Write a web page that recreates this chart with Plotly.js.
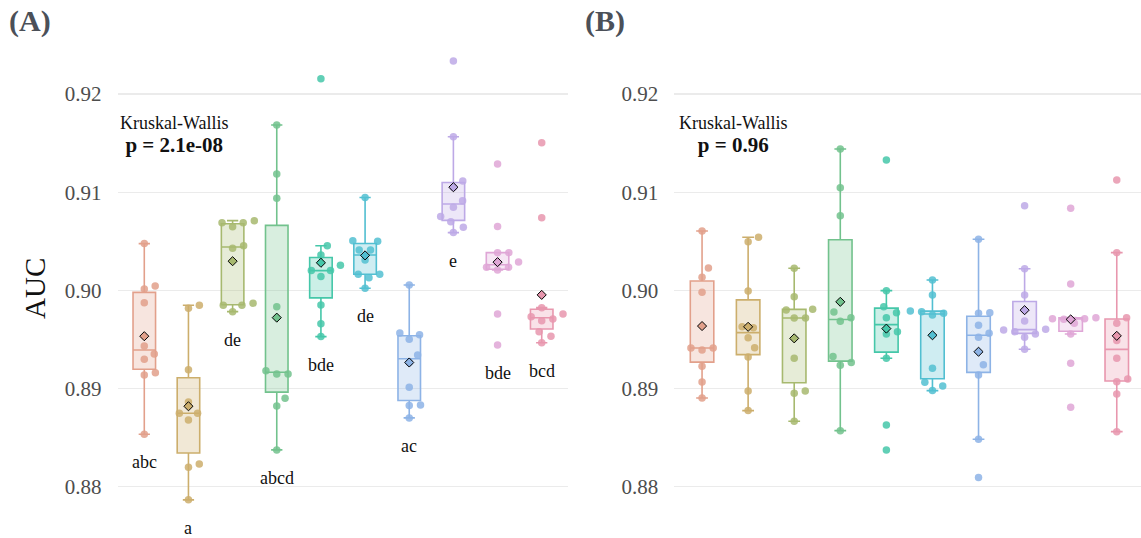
<!DOCTYPE html>
<html>
<head>
<meta charset="utf-8">
<script src="https://cdn.plot.ly/plotly-3.0.1.min.js"></script>
<style>html,body{margin:0;padding:0;background:#fff;}#chart{width:1141px;height:538px;}</style>
</head>
<body>
<div id="chart"></div>
<script>
// ---- Panel A: AUC values per group (10 groups, 10 folds each) ----
const a1 = [0.90476, 0.90045, 0.90014, 0.89875, 0.89434, 0.89352, 0.89298, 0.89162, 0.89139, 0.88535];
const a2 = [0.89848, 0.89818, 0.89192, 0.88864, 0.88748, 0.88748, 0.88680, 0.88232, 0.88199, 0.87866];
const a3 = [0.90710, 0.90689, 0.90689, 0.90649, 0.90455, 0.90429, 0.89869, 0.89848, 0.89848, 0.89783];
const a4 = [0.91684, 0.91185, 0.90938, 0.89834, 0.89182, 0.89149, 0.89149, 0.88901, 0.88823, 0.88375];
const a5 = [0.92156, 0.90455, 0.90360, 0.90256, 0.90201, 0.90201, 0.90140, 0.89851, 0.89661, 0.89529];
const a6 = [0.90945, 0.90506, 0.90500, 0.90411, 0.90411, 0.90310, 0.90164, 0.90164, 0.90129, 0.90021];
const a7 = [0.90055, 0.89566, 0.89549, 0.89502, 0.89342, 0.89265, 0.89013, 0.88833, 0.88826, 0.88701];
const a8 = [0.92336, 0.91565, 0.91114, 0.91050, 0.90913, 0.90846, 0.90751, 0.90700, 0.90643, 0.90588];
const a9 = [0.91287, 0.90650, 0.90384, 0.90384, 0.90288, 0.90235, 0.90235, 0.90208, 0.89760, 0.89444];
const a10 = [0.91504, 0.90740, 0.89824, 0.89760, 0.89732, 0.89709, 0.89691, 0.89579, 0.89533, 0.89467];
const lettersA = ['abc', 'a', 'de', 'abcd', 'bde', 'de', 'ac', 'e', 'bde', 'bcd'];
const pValueA = '2.1e-08';

// ---- Panel B ----
const b1 = [0.90605, 0.90228, 0.90133, 0.89981, 0.89413, 0.89413, 0.89393, 0.89227, 0.89067, 0.88904];
const b2 = [0.90541, 0.90496, 0.89994, 0.89629, 0.89620, 0.89518, 0.89416, 0.89322, 0.88976, 0.88775];
const b3 = [0.90225, 0.89936, 0.89808, 0.89800, 0.89719, 0.89719, 0.89309, 0.88976, 0.88952, 0.88667];
const b4 = [0.91440, 0.91046, 0.90761, 0.89780, 0.89722, 0.89685, 0.89325, 0.89264, 0.89237, 0.88571];
const b5 = [0.91328, 0.89997, 0.89834, 0.89773, 0.89722, 0.89579, 0.89556, 0.89309, 0.88629, 0.88375];
const b6 = [0.90106, 0.89953, 0.89790, 0.89783, 0.89767, 0.89750, 0.89207, 0.89064, 0.89027, 0.88979];
const b7 = [0.90520, 0.89773, 0.89767, 0.89645, 0.89563, 0.89522, 0.89243, 0.89139, 0.88484, 0.88093];
const b8 = [0.90863, 0.90220, 0.89953, 0.89688, 0.89604, 0.89597, 0.89579, 0.89556, 0.89522, 0.89400];
const b9 = [0.90836, 0.90065, 0.89722, 0.89712, 0.89712, 0.89706, 0.89665, 0.89556, 0.89258, 0.88810];
const b10 = [0.91124, 0.90384, 0.89722, 0.89665, 0.89488, 0.89309, 0.89098, 0.89070, 0.88945, 0.88561];
const pValueB = '0.96';

const yTickVals = [0.88, 0.89, 0.90, 0.91, 0.92];
const yTickText = ['0.88', '0.89', '0.90', '0.91', '0.92'];

// ---- styles ----
const colors = ['#E2A08B', '#CCAE6C', '#A7B96F', '#72C28D', '#45C7A9', '#52BFD1', '#8DB3E6', '#BDA9E6', '#DFA6D6', '#E897AE'];
const FONT = "'Liberation Serif', serif";
const W = 1141, H = 538;
const yRange = [0.874776, 0.929574];
const domA = [117.8 / W, 568.2 / W], rangeA = [0.4, 10.6];
const domB = [674.4 / W, 1], rangeB = [0.4, 0.4 + (W - 674.4) / 46.08];

function hexA(h, a) {
  const n = parseInt(h.slice(1), 16);
  return `rgba(${(n >> 16) & 255},${(n >> 8) & 255},${n & 255},${a})`;
}
function q7(s, p) {
  const h = (s.length - 1) * p, lo = Math.floor(h), hi = Math.min(lo + 1, s.length - 1);
  return s[lo] + (h - lo) * (s[hi] - s[lo]);
}
// beeswarm (swarm method, ascending priority)
function swarm(vals, pxX, pxY, d) {
  const idx = vals.map((v, i) => i).sort((a, b) => vals[a] - vals[b] || a - b);
  const placed = [], off = new Array(vals.length);
  idx.forEach(i => {
    const y = vals[i] * pxY;
    const c = [0];
    placed.forEach(p => {
      const dy = Math.abs(p.y - y);
      if (dy < d) { const dx = Math.sqrt(d * d - dy * dy); c.push(p.x + dx, p.x - dx); }
    });
    const ok = c.filter(x => placed.every(p => (x - p.x) ** 2 + (y - p.y) ** 2 >= d * d - 1e-6));
    let best = ok.length ? ok[0] : 0;
    ok.forEach(x => { if (Math.abs(x) < Math.abs(best) - 1e-9) best = x; });
    placed.push({ x: best, y });
    off[i] = best / pxX;
  });
  return off;
}

const pxY = H / (yRange[1] - yRange[0]);
const traces = [], annotations = [];

function panel(groups, xa, ya, dom, rng, letters) {
  const pxX = (dom[1] - dom[0]) * W / (rng[1] - rng[0]);
  const boxes = [], pts = [], means = [];
  groups.forEach((vals, g) => {
    const pos = g + 1;
    const s = vals.slice().sort((a, b) => a - b);
    const q1 = q7(s, 0.25), med = q7(s, 0.5), q3 = q7(s, 0.75), iqr = q3 - q1;
    const lf = Math.min(...s.filter(v => v >= q1 - 1.5 * iqr));
    const uf = Math.max(...s.filter(v => v <= q3 + 1.5 * iqr));
    const mean = vals.reduce((a, b) => a + b, 0) / vals.length;
    boxes.push({
      type: 'box', xaxis: xa, yaxis: ya, x: [pos], q1: [q1], median: [med], q3: [q3],
      lowerfence: [lf], upperfence: [uf], width: 0.51, boxpoints: false,
      line: { color: colors[g], width: 1.6 }, fillcolor: hexA(colors[g], 0.28),
      hoverinfo: 'skip', showlegend: false
    });
    const off = swarm(vals, pxX, pxY, 11.3);
    pts.push({
      type: 'scatter', mode: 'markers', xaxis: xa, yaxis: ya,
      x: vals.map((v, i) => pos + off[i]), y: vals,
      marker: { size: 7.5, color: colors[g], opacity: 0.85, line: { width: 0 } },
      hoverinfo: 'y', showlegend: false
    });
    means.push({
      type: 'scatter', mode: 'markers', xaxis: xa, yaxis: ya, x: [pos], y: [mean],
      marker: { symbol: 'diamond', size: 7, color: colors[g], line: { color: '#000', width: 1 } },
      hoverinfo: 'y', showlegend: false
    });
    if (letters) {
      annotations.push({
        xref: xa, yref: ya, x: pos, y: s[0] - 28 / pxY, text: letters[g], showarrow: false,
        xanchor: 'center', yanchor: 'middle', font: { family: FONT, size: 18, color: '#111' }
      });
    }
  });
  traces.push(...boxes, ...pts, ...means);
}

panel([a1, a2, a3, a4, a5, a6, a7, a8, a9, a10], 'x', 'y', domA, rangeA, lettersA);
panel([b1, b2, b3, b4, b5, b6, b7, b8, b9, b10], 'x2', 'y2', domB, rangeB, null);

function paperY(px) { return 1 - px / H; }
function kwText(p) {
  return 'Kruskal-Wallis<br><span style="font-size:21px"><b>p = ' + p + '</b></span>';
}
annotations.push(
  { xref: 'paper', yref: 'paper', x: 7 / W, y: paperY(21), xanchor: 'left', yanchor: 'middle', text: '<b>(A)</b>', showarrow: false, font: { family: FONT, size: 30, color: '#4b5058' } },
  { xref: 'paper', yref: 'paper', x: 583 / W, y: paperY(21), xanchor: 'left', yanchor: 'middle', text: '<b>(B)</b>', showarrow: false, font: { family: FONT, size: 30, color: '#4b5058' } },
  { xref: 'paper', yref: 'paper', x: 35 / W, y: paperY(289), xanchor: 'center', yanchor: 'middle', text: 'AUC', textangle: -90, showarrow: false, font: { family: FONT, size: 29, color: '#111' } },
  { xref: 'paper', yref: 'paper', x: 174.2 / W, y: paperY(134.5), xanchor: 'center', yanchor: 'middle', align: 'center', text: kwText(pValueA), showarrow: false, font: { family: FONT, size: 18, color: '#111' } },
  { xref: 'paper', yref: 'paper', x: 733.8 / W, y: paperY(134.5), xanchor: 'center', yanchor: 'middle', align: 'center', text: kwText(pValueB), showarrow: false, font: { family: FONT, size: 18, color: '#111' } }
);

const yAxisBase = {
  range: yRange, tickvals: yTickVals, ticktext: yTickText, showgrid: true, gridcolor: '#ebebeb', gridwidth: 1.2,
  zeroline: false, showline: false, ticks: 'outside', ticklen: 11, tickcolor: 'rgba(0,0,0,0)',
  tickfont: { family: FONT, size: 21, color: '#4d4d4d' }, fixedrange: true
};
const xAxisBase = { showgrid: false, zeroline: false, showline: false, showticklabels: false, ticks: '', fixedrange: true };

const layout = {
  width: W, height: H, margin: { l: 0, r: 0, t: 0, b: 0 },
  paper_bgcolor: '#fff', plot_bgcolor: '#fff', showlegend: false,
  xaxis: Object.assign({}, xAxisBase, { domain: domA, range: rangeA, anchor: 'y' }),
  yaxis: Object.assign({}, yAxisBase, { domain: [0, 1], anchor: 'x' }),
  xaxis2: Object.assign({}, xAxisBase, { domain: domB, range: rangeB, anchor: 'y2' }),
  yaxis2: Object.assign({}, yAxisBase, { domain: [0, 1], anchor: 'x2' }),
  annotations: annotations
};

Plotly.newPlot('chart', traces, layout, { displayModeBar: false, staticPlot: true });
</script>
</body>
</html>
